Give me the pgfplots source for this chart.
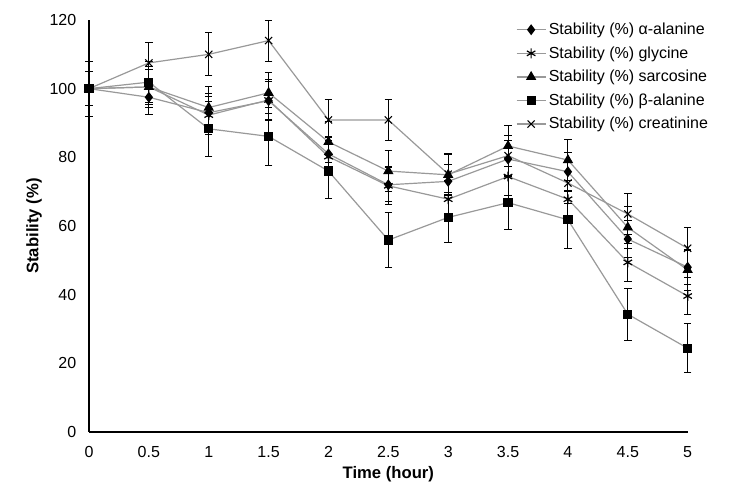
\documentclass[border=0pt]{standalone}
\usepackage{pgfplots}
\pgfplotsset{compat=1.18}
\usepackage{fontspec}
\setmainfont{Liberation Sans}
\definecolor{linegray}{gray}{0.6}
\pgfplotsset{ser/.style={color=linegray, line width=0.9pt,
     error bars/y dir=both, error bars/y explicit,
     error bars/error bar style={black, line width=0.7pt},
     error bars/error mark options={black, rotate=90, mark size=2.8pt, line width=0.7pt}}}
\begin{document}
\begin{tikzpicture}
\begin{axis}[
  scale only axis,
  width=449pt, height=309pt,
  xmin=0, xmax=5, ymin=0, ymax=120,
  xtick={0,0.5,...,5},
  ytick={0,20,...,120},
  xticklabels={0,0.5,1,1.5,2,2.5,3,3.5,4,4.5,5},
  axis lines=left,
  axis line style={-, black, line width=1pt},
  major tick length=0pt,
  tick label style={font=\fontsize{12}{14}\selectfont},
  /pgf/number format/assume math mode=true,
  xticklabel style={yshift=-7pt},
  yticklabel style={xshift=-6pt},
  xlabel={\textbf{Time (hour)}},
  ylabel={\textbf{Stability (\%)}},
  label style={font=\fontsize{12.5}{14}\selectfont},
  ylabel style={yshift=-1pt},
  clip=false,
  legend style={draw=none, fill=none, at={(0.713,1.0)}, anchor=north west,
     font=\fontsize{12}{13}\selectfont, row sep=3.5pt, inner sep=0pt},
  legend cell align=left,
  legend image code/.code={\draw[mark repeat=2,mark phase=2] plot coordinates {(0cm,0cm) (0.38cm,0cm) (0.76cm,0cm)};},
]
\addplot[ser, mark=diamond*, mark size=3.4pt, mark options={black, fill=black, solid}]
 table[x=t, y=v, y error=e] {
t v e
0 100 5
0.5 97.5 5
1 93 5.5
1.5 96.5 5.5
2 81 5
2.5 72 5
3 73 5
3.5 79.5 5.5
4 75.8 5.5
4.5 56.2 5.5
5 48 5
};
\addlegendentry{Stability (\%) α-alanine}
\addplot[ser, mark=asterisk, mark size=3.7pt, mark options={black, solid, line width=0.9pt}]
 table[x=t, y=v, y error=e] {
t v e
0 100 5
0.5 100.5 5
1 92.3 5.5
1.5 96.7 6
2 80.2 5.5
2.5 71.7 5.5
3 67.8 5.5
3.5 74.4 5.5
4 67.8 5.5
4.5 49.4 5.5
5 39.6 5.5
};
\addlegendentry{Stability (\%) glycine}
\addplot[ser, mark=triangle*, mark size=3.6pt, mark options={black, fill=black, solid}]
 table[x=t, y=v, y error=e] {
t v e
0 100 5
0.5 100.5 6
1 94.5 6
1.5 98.8 6
2 84.5 6
2.5 76 6
3 74.9 6
3.5 83.3 6
4 79.2 6
4.5 59.6 6
5 47.2 6
};
\addlegendentry{Stability (\%) sarcosine}
\addplot[ser, mark=square*, mark size=3pt, mark options={black, fill=black, solid}]
 table[x=t, y=v, y error=e] {
t v e
0 100 8
0.5 101.9 6
1 88.3 8
1.5 86.1 8.4
2 76 8
2.5 55.9 8
3 62.5 7.4
3.5 66.8 7.8
4 61.8 8.3
4.5 34.3 7.6
5 24.4 7.2
};
\addlegendentry{Stability (\%) β-alanine}
\addplot[ser, mark=x, mark size=3.8pt, mark options={black, solid, line width=0.8pt}]
 table[x=t, y=v, y error=e] {
t v e
0 100 8
0.5 107.5 6
1 110 6.3
1.5 114 6
2 90.9 6
2.5 90.9 6
3 75.1 6
3.5 80.5 6
4 72.5 6
4.5 63.5 6
5 53.5 6
};
\addlegendentry{Stability (\%) creatinine}
\end{axis}
\pgfresetboundingbox
\path[use as bounding box] (-66.75pt,-52.5pt) rectangle (500.25pt,324pt);
\end{tikzpicture}
\end{document}
